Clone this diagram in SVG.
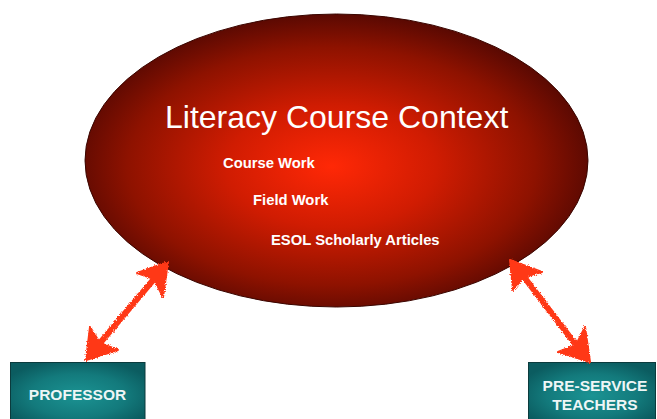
<svg xmlns="http://www.w3.org/2000/svg" width="657" height="419" viewBox="0 0 657 419">
  <style>
    .t { font-family: "Liberation Sans", Arial, Helvetica, sans-serif; fill: #ffffff; }
    .title { font-size: 32px; }
    .item { font-size: 14.8px; font-weight: bold; }
    .box { stroke: #0b3b3d; stroke-width: 1; fill: url(#teal); }
    .boxtxt { font-size: 15.5px; font-weight: bold; text-anchor: middle; fill: #eef6f6; }
    .arrow { fill: #ff3818; stroke: #ff3818; stroke-linejoin: round; }
  </style>
  <defs>
    <radialGradient id="red" cx="0.49" cy="0.52" r="0.52">
      <stop offset="0" stop-color="#ff2806"/>
      <stop offset="0.4" stop-color="#d01c02"/>
      <stop offset="0.78" stop-color="#8e1200"/>
      <stop offset="1" stop-color="#5a0902"/>
    </radialGradient>
    <radialGradient id="teal" cx="0.5" cy="0.55" r="0.6">
      <stop offset="0" stop-color="#1b9393"/>
      <stop offset="0.6" stop-color="#137a7c"/>
      <stop offset="1" stop-color="#0b5c60"/>
    </radialGradient>
    <filter id="rough" x="-20%" y="-20%" width="140%" height="140%">
      <feTurbulence type="fractalNoise" baseFrequency="0.9" numOctaves="2" seed="3" result="n"/>
      <feDisplacementMap in="SourceGraphic" in2="n" scale="3.5" xChannelSelector="R" yChannelSelector="G"/>
    </filter>
  </defs>

  <g id="context">
    <ellipse cx="336.5" cy="160.5" rx="251.5" ry="146.5" fill="url(#red)" stroke="#3a0500" stroke-width="1"/>
    <text class="t title" x="165" y="128">Literacy Course Context</text>
    <text class="t item" x="223" y="168">Course Work</text>
    <text class="t item" x="253" y="205">Field Work</text>
    <text class="t item" x="271" y="245">ESOL Scholarly Articles</text>
  </g>

  <g id="professor">
    <rect class="box" x="10.5" y="362.5" width="134.5" height="60"/>
    <text class="t boxtxt" x="77.5" y="400">PROFESSOR</text>
  </g>

  <g id="preservice">
    <rect class="box" x="528.5" y="362.5" width="127" height="60"/>
    <text class="t boxtxt" x="595" y="391">PRE-SERVICE</text>
    <text class="t boxtxt" x="595" y="410">TEACHERS</text>
  </g>

  <g id="connectors" filter="url(#rough)">
    <g id="arrow-professor">
      <line class="arrow" x1="154" y1="279" x2="100" y2="343" stroke-width="6"/>
      <polygon class="arrow" stroke-width="2" points="168,262 137,273 154,279 163,297"/>
      <polygon class="arrow" stroke-width="2" points="86,360 90,327 100,343 118,350"/>
    </g>
    <g id="arrow-preservice">
      <line class="arrow" x1="524" y1="277" x2="576" y2="345" stroke-width="6"/>
      <polygon class="arrow" stroke-width="2" points="510,260 542,272 524,277 513,290"/>
      <polygon class="arrow" stroke-width="2" points="590,362 585,327 576,345 558,352"/>
    </g>
  </g>
</svg>
